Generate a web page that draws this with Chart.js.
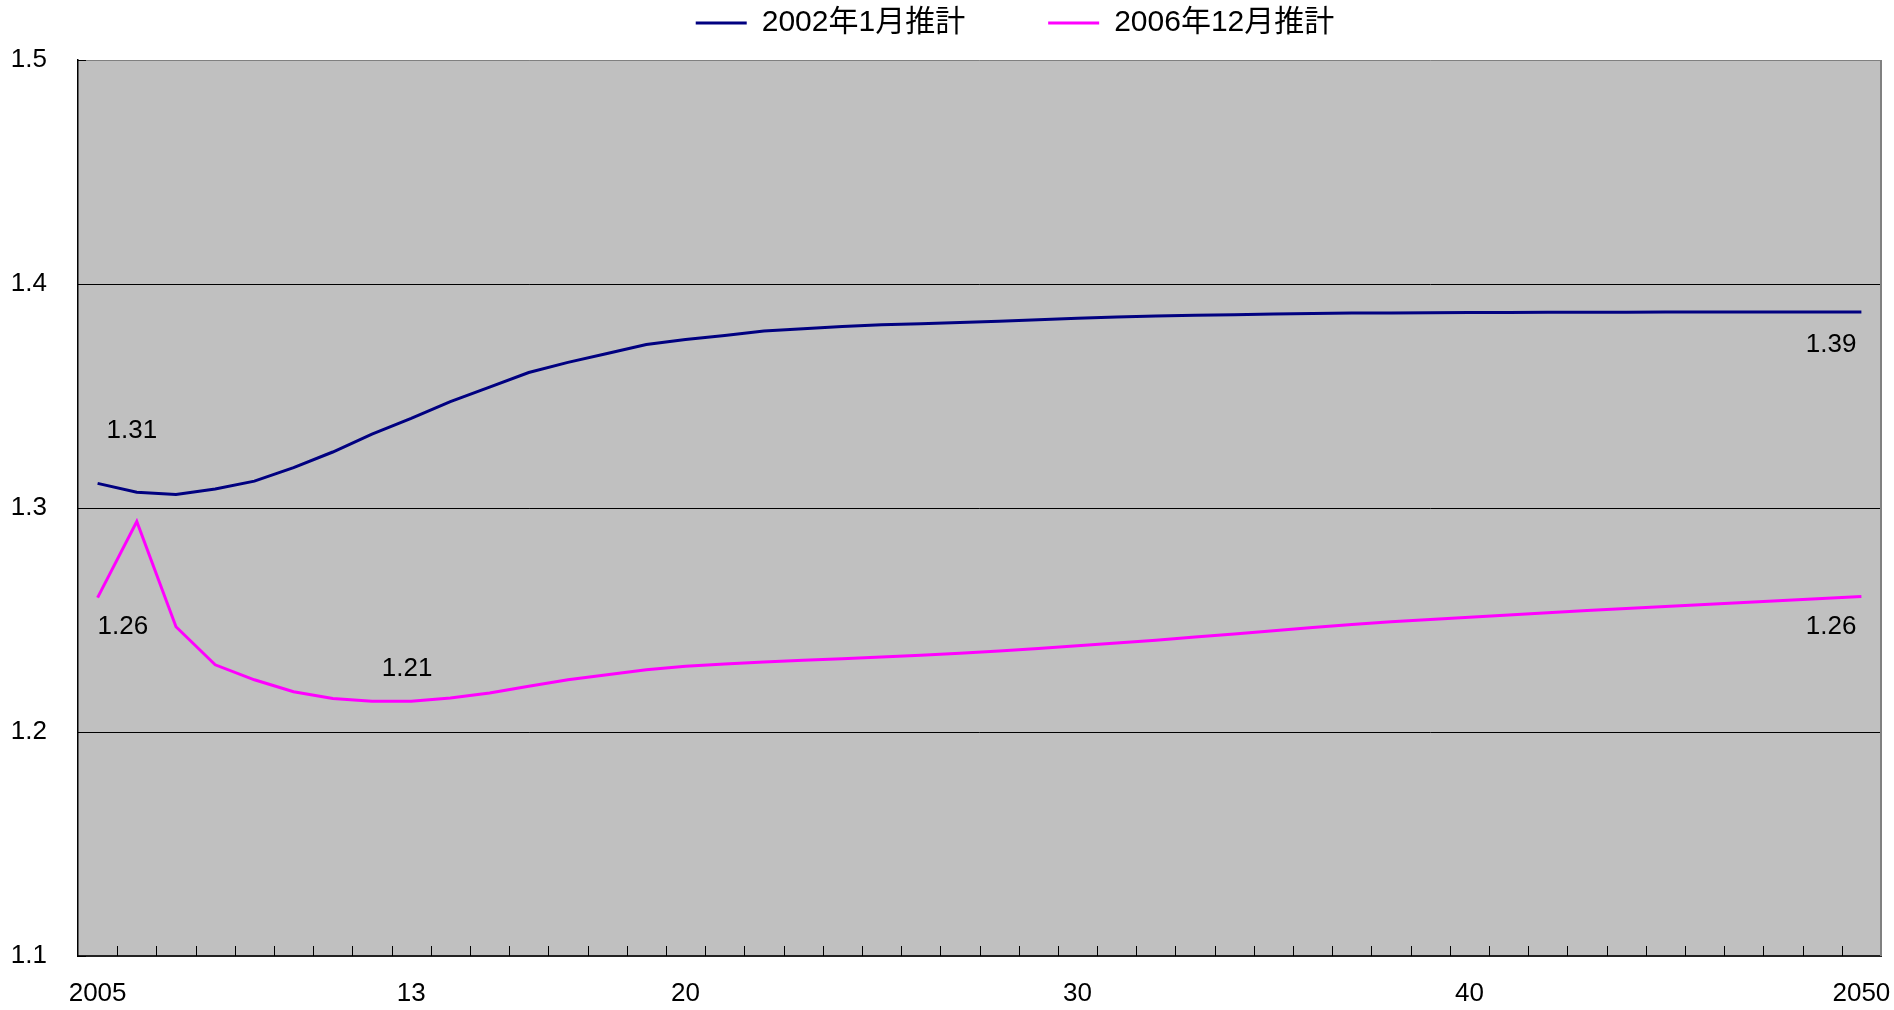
<!DOCTYPE html>
<html>
<head>
<meta charset="utf-8">
<script src="https://cdn.jsdelivr.net/npm/chart.js@4.4.1/dist/chart.umd.min.js"></script>
<style>
  html, body { margin: 0; padding: 0; background: #fff; }
  #wrap { width: 1894px; height: 1010px; }
</style>
</head>
<body>
<div id="wrap"><canvas id="tfrChart"></canvas></div>
<script>
// categories: 2005 .. 2050
const years = [2005, 2006, 2007, 2008, 2009, 2010, 2011, 2012, 2013, 2014,
               2015, 2016, 2017, 2018, 2019, 2020, 2021, 2022, 2023, 2024,
               2025, 2026, 2027, 2028, 2029, 2030, 2031, 2032, 2033, 2034,
               2035, 2036, 2037, 2038, 2039, 2040, 2041, 2042, 2043, 2044,
               2045, 2046, 2047, 2048, 2049, 2050];

// 2002年1月推計
const est2002 = [1.311, 1.307, 1.306, 1.3085, 1.312, 1.318, 1.325, 1.333, 1.340, 1.3475,
                 1.354, 1.3605, 1.365, 1.369, 1.373, 1.3752, 1.377, 1.379, 1.380, 1.381,
                 1.3818, 1.3823, 1.3828, 1.3834, 1.384, 1.3847, 1.3853, 1.3857, 1.386, 1.3863,
                 1.3866, 1.3868, 1.387, 1.3871, 1.3872, 1.3873, 1.3873, 1.3874, 1.3874, 1.3874,
                 1.3875, 1.3875, 1.3875, 1.3875, 1.3875, 1.3875];

// 2006年12月推計
const est2006 = [1.260, 1.294, 1.247, 1.230, 1.2233, 1.218, 1.215, 1.2137, 1.2137, 1.2152,
                 1.2174, 1.2204, 1.2233, 1.2256, 1.2278, 1.2293, 1.2304, 1.2312, 1.232, 1.2327,
                 1.2335, 1.2343, 1.2352, 1.2362, 1.2373, 1.2385, 1.2397, 1.241, 1.2424, 1.2438,
                 1.2452, 1.2466, 1.248, 1.2492, 1.2502, 1.2512, 1.2522, 1.2532, 1.2542, 1.2551,
                 1.256, 1.2569, 1.2578, 1.2587, 1.2596, 1.2605];

const seriesNames = ['2002年1月推計', '2006年12月推計'];

// x tick labels shown on the axis
const tickYears = [2005, 2013, 2020, 2030, 2040, 2050];
const tickLabels = ['2005', '13', '20', '30', '40', '2050'];

// y axis ticks
const yTicks = [1.1, 1.2, 1.3, 1.4, 1.5];

// values written next to the lines: [dataset, year index]
const notedPoints = [[0, 0], [0, 45], [1, 0], [1, 8], [1, 45]];

const FONT = "'Liberation Sans', Arial, 'Noto Sans CJK JP', sans-serif";

// gray plot area + right border + inward tick marks + value labels
const plotDecor = {
    id: 'plotDecor',
    afterLayout(chart) {
        // legend sits a bit right of centre and tight to the top in the original
        const lg = chart.legend;
        lg.left += 68;
        lg.right += 68;
        lg.top -= 12;
        lg.bottom -= 12;
    },
    beforeDraw(chart) {
        const { ctx, chartArea: a } = chart;
        ctx.save();
        ctx.fillStyle = '#c0c0c0';
        ctx.fillRect(a.left, a.top, a.right - a.left, a.bottom - a.top);
        ctx.restore();
    },
    afterDatasetsDraw(chart) {
        const { ctx, chartArea: a, scales } = chart;
        const x = scales.x, y = scales.y;
        ctx.save();
        // right border
        ctx.strokeStyle = '#808080';
        ctx.lineWidth = 2;
        ctx.beginPath();
        ctx.moveTo(a.right, a.top);
        ctx.lineTo(a.right, a.bottom);
        ctx.stroke();

        // small ticks pointing into the plot between categories
        ctx.strokeStyle = '#000';
        ctx.lineWidth = 1;
        ctx.beginPath();
        for (let i = 1; i < years.length; i++) {
            const px = Math.round((x.getPixelForValue(i - 1) + x.getPixelForValue(i)) / 2) + 0.5;
            ctx.moveTo(px, a.bottom);
            ctx.lineTo(px, a.bottom - 10);
        }
        yTicks.forEach(v => {
            const py = Math.round(y.getPixelForValue(v)) + 0.5;
            ctx.moveTo(a.left, py);
            ctx.lineTo(a.left + 8, py);
        });
        ctx.stroke();

        // value labels
        ctx.fillStyle = '#000';
        ctx.font = '26px ' + FONT;
        ctx.textBaseline = 'middle';
        const place = {
            '0-0':  { dx: 9,   dy: -53, align: 'left' },
            '0-45': { dx: -5,  dy: 33,  align: 'right' },
            '1-0':  { dx: 0,   dy: 29,  align: 'left' },
            '1-8':  { dx: -4,  dy: -32, align: 'center' },
            '1-45': { dx: -5,  dy: 30,  align: 'right' }
        };
        notedPoints.forEach(([ds, i]) => {
            const pt = chart.getDatasetMeta(ds).data[i];
            const p = place[ds + '-' + i];
            ctx.textAlign = p.align;
            ctx.fillText(chart.data.datasets[ds].data[i].toFixed(2), pt.x + p.dx, pt.y + p.dy);
        });
        ctx.restore();
    }
};

const ctx = document.getElementById('tfrChart').getContext('2d');
const tfrChart = new Chart(ctx, {
    type: 'line',
    data: {
        labels: years,
        datasets: [{
            label: seriesNames[0],
            data: est2002,
            borderColor: '#000080',
            backgroundColor: '#000080',
            borderWidth: 3,
            pointRadius: 0,
            tension: 0,
            fill: false
        }, {
            label: seriesNames[1],
            data: est2006,
            borderColor: '#ff00ff',
            backgroundColor: '#ff00ff',
            borderWidth: 3,
            pointRadius: 0,
            tension: 0,
            fill: false
        }]
    },
    options: {
        responsive: true,
        maintainAspectRatio: false,
        animation: false,
        layout: { padding: { left: 0, right: 0, top: 12, bottom: 0 } },
        plugins: {
            tooltip: { enabled: false },
            legend: {
                display: true,
                position: 'top',
                labels: {
                    color: '#000',
                    font: { family: FONT, size: 30 },
                    boxWidth: 51,
                    boxHeight: 3,
                    padding: 8,
                    generateLabels(chart) {
                        const items = Chart.defaults.plugins.legend.labels.generateLabels(chart);
                        items.forEach(it => { it.lineWidth = 0; });
                        items[0].text += '         ';
                        return items;
                    }
                }
            }
        },
        scales: {
            x: {
                type: 'category',
                offset: true,
                grid: { display: false, drawTicks: false },
                border: { display: true, color: '#222', width: 2 },
                afterFit(scale) {
                    scale.height = 54;
                    scale.paddingLeft = 0;
                    scale.paddingRight = 13;
                },
                ticks: {
                    autoSkip: false,
                    maxRotation: 0,
                    padding: 22,
                    color: '#000',
                    font: { family: FONT, size: 26 },
                    callback(value, index) {
                        const k = tickYears.indexOf(years[index]);
                        return k >= 0 ? tickLabels[k] : '';
                    }
                }
            },
            y: {
                min: 1.1,
                max: 1.5,
                afterBuildTicks(scale) {
                    scale.ticks = yTicks.map(v => ({ value: v }));
                },
                afterFit(scale) {
                    scale.width = 78;
                },
                grid: {
                    drawTicks: false,
                    lineWidth: 1,
                    color: ctx => (ctx.tick && ctx.tick.value >= 1.5 - 1e-9) ? '#808080' : '#000'
                },
                border: { display: true, color: '#000', width: 1.5 },
                ticks: {
                    padding: 31,
                    color: '#000',
                    font: { family: FONT, size: 26 },
                    callback: v => Number(v).toFixed(1)
                }
            }
        }
    },
    plugins: [plotDecor]
});
</script>
</body>
</html>
